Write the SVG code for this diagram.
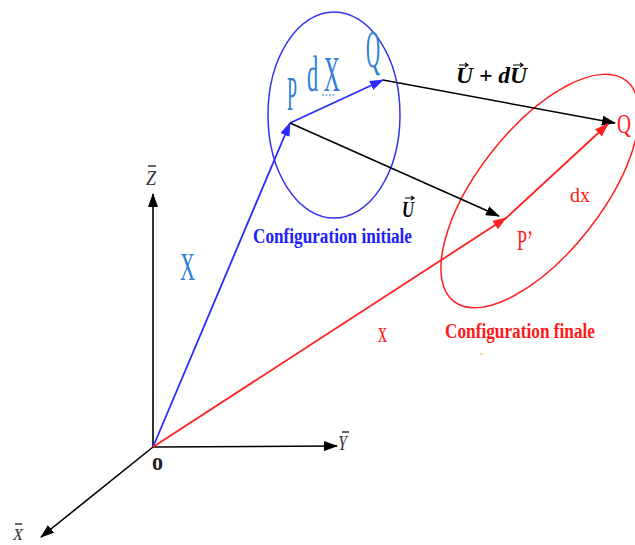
<svg xmlns="http://www.w3.org/2000/svg" width="635" height="545" viewBox="0 0 635 545">
<defs>
<style>
.ax{stroke:#000;stroke-width:1.6;fill:none}
.bl{stroke:#2b2bff;stroke-width:1.8;fill:none}
.bk{stroke:#000;stroke-width:1.5;fill:none}
.rd{stroke:#ff2020;stroke-width:1.8;fill:none}
.lblB{font-family:"Liberation Serif",serif;fill:#2f80d6}
.lblR{font-family:"Liberation Serif",serif;fill:#ff1a1a}
.cfg{font-family:"Liberation Serif",serif;font-weight:bold}
.vec{font-family:"Liberation Serif",serif;font-weight:bold;font-style:italic;fill:#000}
.axl{font-family:"Liberation Serif",serif;font-style:italic;fill:#333}
.bar{stroke:#000;stroke-width:1.2;fill:none}
</style>
<marker id="mK" viewBox="0 0 14 10" refX="13" refY="5" markerWidth="14" markerHeight="10" markerUnits="userSpaceOnUse" orient="auto"><path d="M0,0 L14,5 L0,10 z" fill="#000"/></marker>
<marker id="mB" viewBox="0 0 14 10" refX="13" refY="5" markerWidth="14" markerHeight="10" markerUnits="userSpaceOnUse" orient="auto"><path d="M0,0 L14,5 L0,10 z" fill="#2b2bff"/></marker>
<marker id="mR" viewBox="0 0 14 10" refX="13" refY="5" markerWidth="14" markerHeight="10" markerUnits="userSpaceOnUse" orient="auto"><path d="M0,0 L14,5 L0,10 z" fill="#ff2020"/></marker>
</defs>

<g id="config-initiale">
<ellipse cx="334" cy="115" rx="66" ry="103" fill="none" stroke="#3333ee" stroke-width="1.5"/>
<text x="253" y="243" class="cfg" font-size="20" fill="#2020ff" textLength="159" lengthAdjust="spacingAndGlyphs">Configuration initiale</text>
</g>

<g id="config-finale">
<ellipse cx="540" cy="191" rx="140" ry="62" transform="rotate(-52 540 191)" fill="none" stroke="#ff2020" stroke-width="1.5"/>
<text x="445" y="338" class="cfg" font-size="20" fill="#ff1a1a" textLength="150" lengthAdjust="spacingAndGlyphs">Configuration finale</text>
<line x1="480" y1="354" x2="483" y2="354" stroke="#f0a040" stroke-width="1"/>
</g>

<g id="axes">
<line class="ax" x1="153" y1="447" x2="153" y2="194" marker-end="url(#mK)"/>
<line class="ax" x1="153" y1="447" x2="337" y2="446" marker-end="url(#mK)"/>
<line class="ax" x1="153" y1="447" x2="41" y2="537" marker-end="url(#mK)"/>
<text x="146" y="185" class="axl" font-size="20" textLength="10" lengthAdjust="spacingAndGlyphs">Z</text>
<line class="bar" x1="148" y1="166" x2="156" y2="166"/>
<text x="338" y="450" class="axl" font-size="20" textLength="9" lengthAdjust="spacingAndGlyphs">Y</text>
<line class="bar" x1="342" y1="432" x2="349" y2="432"/>
<text x="13" y="540" class="axl" font-size="17" textLength="10" lengthAdjust="spacingAndGlyphs">X</text>
<line class="bar" x1="15" y1="524" x2="22" y2="524"/>
<text x="152" y="470" font-family="Liberation Serif,serif" font-weight="bold" font-size="26" fill="#222" textLength="11" lengthAdjust="spacingAndGlyphs">o</text>
</g>

<g id="connectors">
<line class="bl" x1="153" y1="447" x2="290" y2="123" marker-end="url(#mB)"/>
<line class="bl" x1="290" y1="123" x2="383" y2="80" marker-end="url(#mB)"/>
<line class="bk" x1="290" y1="123" x2="499" y2="216" marker-end="url(#mK)"/>
<line class="bk" x1="383" y1="80" x2="615" y2="123" marker-end="url(#mK)"/>
<line class="rd" x1="153" y1="447" x2="506" y2="218" marker-end="url(#mR)"/>
<line class="rd" x1="505" y1="219" x2="608" y2="124" marker-end="url(#mR)"/>
</g>

<g id="labels-initial">
<text transform="translate(287 110) scale(0.375 1)" class="lblB" font-size="48">P</text>
<text transform="translate(307 91) scale(0.448 1)" class="lblB" font-size="50">d X</text>
<line x1="322" y1="95" x2="335" y2="95" stroke="#2f80d6" stroke-width="1" stroke-dasharray="2,1.5"/>
<text transform="translate(366 67) scale(0.373 1)" class="lblB" font-size="52">Q</text>
<text x="180" y="280" class="lblB" font-size="41" textLength="15" lengthAdjust="spacingAndGlyphs">X</text>
</g>

<g id="labels-final">
<text x="378" y="342" class="lblR" font-size="30" textLength="9" lengthAdjust="spacingAndGlyphs">x</text>
<text x="517" y="250" class="lblR" font-size="29" textLength="16" lengthAdjust="spacingAndGlyphs">P’</text>
<text x="570" y="202" class="lblR" font-size="22" textLength="20" lengthAdjust="spacingAndGlyphs">dx</text>
<text x="617" y="133" class="lblR" font-size="27" textLength="14" lengthAdjust="spacingAndGlyphs">Q</text>
</g>

<g id="labels-displacement">
<text x="402" y="217" class="vec" font-size="23" textLength="12" lengthAdjust="spacingAndGlyphs">U</text>
<path class="bar" d="M405,198 L414,198 M411,196 L414,198 L411,200"/>
<text x="456" y="83" class="vec" font-size="23" textLength="71" lengthAdjust="spacingAndGlyphs">U + dU</text>
<path class="bar" d="M459,65 L468,65 M465,63 L468,65 L465,67"/>
<path class="bar" d="M513,65 L523,65 M520,63 L523,65 L520,67"/>
</g>
</svg>
